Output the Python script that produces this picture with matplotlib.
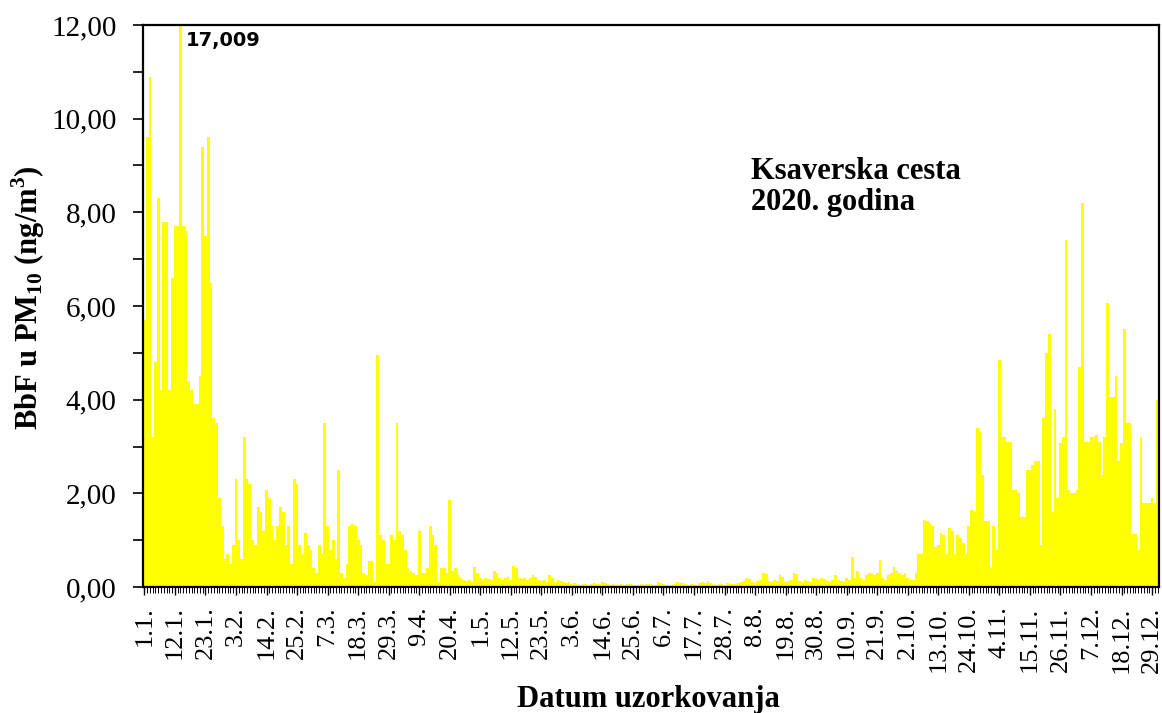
import numpy as np
import matplotlib
matplotlib.use('Agg')
import matplotlib.pyplot as plt
from matplotlib.ticker import FuncFormatter, MultipleLocator

# dnevne vrijednosti BbF u PM10 (ng/m3), Ksaverska cesta 2020.
sijecanj = [5.7, 9.6, 10.9, 3.2, 4.8, 8.3, 4.2, 7.8, 7.8, 4.2, 6.6, 7.7, 7.7, 17.009, 7.7, 7.6,
            4.4, 4.2, 3.9, 3.9, 4.5, 9.4, 7.5, 9.6, 6.5, 3.6, 3.5, 1.9, 1.3, 0.6, 0.7]
veljaca = [0.5, 0.9, 2.3, 1.0, 0.6, 3.2, 2.3, 2.2, 1.0, 0.9, 1.7, 1.6, 1.2, 2.07, 1.9, 1.3,
           1.0, 1.3, 1.7, 1.6, 0.9, 1.3, 0.5, 2.3, 2.2, 0.9, 0.7, 1.15, 0.9]
ozujak = [0.8, 0.4, 0.3, 0.9, 0.7, 3.5, 1.3, 0.8, 1.0, 0.6, 2.5, 0.3, 0.2, 0.5, 1.3, 1.35,
          1.3, 1.0, 0.9, 0.3, 0.25, 0.55, 0.55, 0.1, 4.95, 1.1, 1.0, 0.5, 0.5, 1.1, 1.0]
travanj = [3.5, 1.2, 1.1, 0.8, 0.4, 0.35, 0.3, 0.25, 1.2, 0.3, 0.3, 0.4, 1.3, 1.1, 0.9, 0.1,
           0.4, 0.4, 0.3, 1.85, 0.35, 0.4, 0.25, 0.2, 0.15, 0.12, 0.15, 0.1, 0.42, 0.3]
svibanj = [0.2, 0.15, 0.2, 0.18, 0.15, 0.35, 0.3, 0.2, 0.15, 0.2, 0.22, 0.15, 0.45, 0.4, 0.2,
           0.18, 0.2, 0.15, 0.2, 0.25, 0.22, 0.15, 0.12, 0.15, 0.1, 0.25, 0.2, 0.1, 0.15, 0.12, 0.1]
lipanj = [0.08, 0.1, 0.07, 0.08, 0.06, 0.05, 0.07, 0.06, 0.05, 0.06, 0.08, 0.07, 0.06, 0.1, 0.09,
          0.07, 0.05, 0.06, 0.05, 0.04, 0.06, 0.05, 0.07, 0.06, 0.05, 0.04, 0.05, 0.06, 0.05, 0.07]
srpanj = [0.06, 0.05, 0.04, 0.1, 0.08, 0.06, 0.05, 0.04, 0.05, 0.06, 0.1, 0.09, 0.08, 0.06, 0.05,
          0.06, 0.07, 0.05, 0.08, 0.1, 0.09, 0.12, 0.08, 0.06, 0.05, 0.07, 0.06, 0.05, 0.08, 0.06, 0.07]
kolovoz = [0.06, 0.08, 0.1, 0.12, 0.2, 0.18, 0.1, 0.08, 0.12, 0.15, 0.3, 0.28, 0.12, 0.1, 0.15,
           0.12, 0.25, 0.22, 0.1, 0.12, 0.15, 0.3, 0.28, 0.12, 0.1, 0.15, 0.12, 0.1, 0.2, 0.18, 0.15]
rujan = [0.2, 0.18, 0.12, 0.1, 0.15, 0.25, 0.15, 0.12, 0.1, 0.2, 0.15, 0.65, 0.2, 0.35, 0.2,
         0.15, 0.25, 0.3, 0.3, 0.25, 0.3, 0.57, 0.2, 0.15, 0.25, 0.3, 0.43, 0.35, 0.3, 0.25]
listopad = [0.3, 0.2, 0.15, 0.15, 0.3, 0.7, 0.7, 1.43, 1.4, 1.36, 1.3, 0.86, 0.9, 1.15, 1.1, 0.7,
            1.25, 1.2, 0.7, 1.1, 1.05, 0.95, 0.7, 1.3, 1.64, 1.6, 3.4, 3.3, 2.4, 1.4, 1.4]
studeni = [0.4, 1.3, 0.8, 4.85, 3.2, 3.2, 3.1, 3.1, 2.07, 2.07, 2.0, 1.5, 1.5, 2.5, 2.5, 2.6,
           2.7, 2.7, 0.9, 3.6, 5.0, 5.4, 1.6, 3.8, 1.9, 3.07, 3.2, 7.4, 2.07, 2.0]
prosinac = [2.0, 2.07, 4.7, 8.2, 3.1, 3.1, 3.2, 3.2, 3.25, 3.1, 2.4, 3.2, 6.06, 4.06, 4.06, 4.5,
            2.7, 3.07, 5.5, 3.5, 3.5, 1.14, 1.14, 0.8, 3.2, 1.8, 1.8, 1.8, 1.9, 1.8, 4.0]

vrijednosti = (sijecanj + veljaca + ozujak + travanj + svibanj + lipanj + srpanj +
               kolovoz + rujan + listopad + studeni + prosinac)

oznake = ['1.1.', '12.1.', '23.1.', '3.2.', '14.2.', '25.2.', '7.3.', '18.3.', '29.3.',
          '9.4.', '20.4.', '1.5.', '12.5.', '23.5.', '3.6.', '14.6.', '25.6.', '6.7.',
          '17.7.', '28.7.', '8.8.', '19.8.', '30.8.', '10.9.', '21.9.', '2.10.', '13.10.',
          '24.10.', '4.11.', '15.11.', '26.11.', '7.12.', '18.12.', '29.12.']

plt.rcParams['font.family'] = 'Liberation Serif'
plt.rcParams['mathtext.fontset'] = 'custom'
plt.rcParams['mathtext.rm'] = 'Liberation Serif:bold'
plt.rcParams['mathtext.bf'] = 'Liberation Serif:bold'

fig = plt.figure(figsize=(11.62, 7.13), dpi=100)
ax = fig.add_axes([143 / 1162, 1 - 587 / 713, (1159 - 143) / 1162, (587 - 25) / 713])

x = np.arange(len(vrijednosti))
ax.bar(x, vrijednosti, width=1.0, color='#ffff00', linewidth=0)

ax.set_xlim(-0.5, len(vrijednosti) - 0.5)
ax.set_ylim(0, 12)

for s in ax.spines.values():
    s.set_linewidth(1.6)

ax.set_yticks(np.arange(0, 13, 2))
ax.yaxis.set_minor_locator(MultipleLocator(1))
ax.yaxis.set_major_formatter(FuncFormatter(lambda v, p: f'{v:.2f}'.replace('.', ',')))
ax.tick_params(axis='y', which='both', length=7, width=1.2, labelsize=21, pad=12)

ax.set_xticks(np.arange(0, len(vrijednosti), 11))
ax.set_xticklabels(oznake, rotation=90)
ax.set_xticks(x, minor=True)
ax.tick_params(axis='x', which='major', length=6, width=1.0, labelsize=19, pad=8)
ax.tick_params(axis='x', which='minor', length=4, width=0.7)

fig.text(28 / 1162, 1 - 298 / 713, r'BbF u PM$_{10}$ (ng/m$^{3}$)', fontsize=22,
         fontweight='bold', rotation=90, ha='center', va='center')
fig.text(648 / 1162, 1 - 699 / 713, 'Datum uzorkovanja', fontsize=22, fontweight='bold',
         ha='center', va='center')

# vrh koji izlazi iz skale
imax = int(np.argmax(vrijednosti))
ax.annotate(f'{vrijednosti[imax]:.3f}'.replace('.', ','), xy=(imax, 12), xytext=(4, -4),
            textcoords='offset points', ha='left', va='top', fontsize=14,
            fontweight='bold', family='DejaVu Sans', annotation_clip=False)

ax.text(0.598, 0.765, 'Ksaverska cesta\n2020. godina', transform=ax.transAxes,
        fontsize=22, fontweight='bold', va='top', ha='left', linespacing=1.1)

fig.savefig('out.png', dpi=100)
